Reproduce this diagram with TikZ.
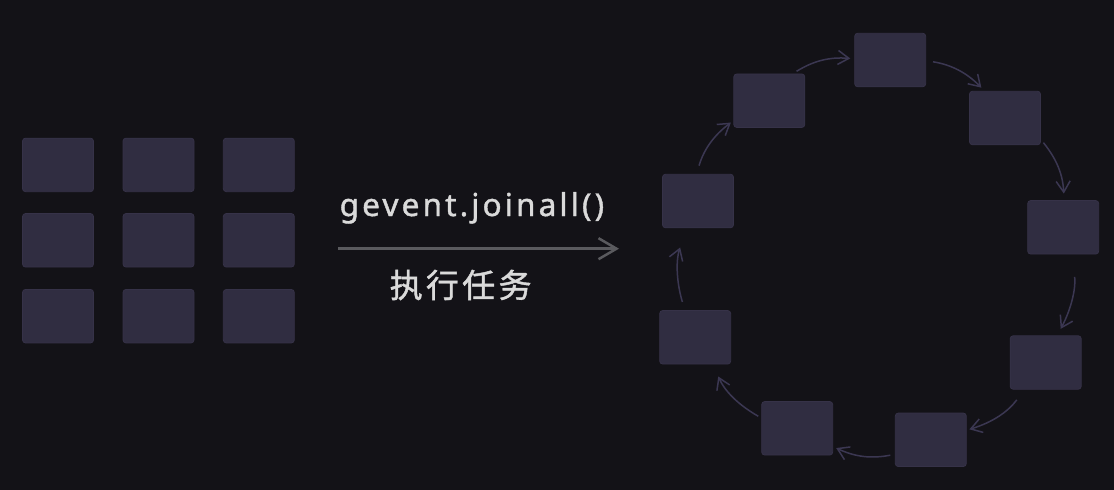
\documentclass[tikz,border=0pt]{standalone}
\usepackage{fontspec}
\usetikzlibrary{arrows.meta}
\newfontfamily\latinf[LetterSpace=10,FakeBold=1.3]{Noto Sans}
\newfontfamily\cjkf[LetterSpace=10,FakeBold=1.3]{Noto Sans CJK SC}
\definecolor{bg}{HTML}{131217}
\definecolor{boxfill}{HTML}{302D41}
\definecolor{boxline}{HTML}{363248}
\definecolor{arc}{HTML}{3B3752}
\definecolor{mainarr}{HTML}{5A5A5E}
\definecolor{txt}{HTML}{DADADA}
\tikzset{
  task/.style={rectangle, rounded corners=3pt, fill=boxfill, draw=boxline, line width=0.8pt,
    minimum width=71pt, minimum height=53.5pt, inner sep=0pt},
  loop/.style={draw=arc, line width=1.5pt, -{Straight Barb[length=11pt,width=14pt]}, bend left=18},
  mainarrow/.style={draw=mainarr, line width=2.5pt, -{Straight Barb[length=18pt,width=21pt]}},
  label/.style={text=txt, inner sep=0pt}
}
\begin{document}
\begin{tikzpicture}[x=1pt,y=1pt]
\fill[bg] (0,0) rectangle (1114,-490);
\useasboundingbox (0,0) rectangle (1114,-490);
% grid of tasks
\foreach \c/\x in {1/58,2/158.5,3/258.8}{
  \foreach \r/\y in {1/-164.9,2/-240.3,3/-316.2}{
    \node[task] (g\r\c) at (\x,\y) {};
  }
}
% main arrow and labels
\coordinate (ms) at (338,-248.7);
\coordinate (me) at (619,-248.7);
\draw[mainarrow] (ms) -- (me);
\node[label, anchor=base west] (t1) at (339.5,-216) {\latinf\fontsize{31.5}{38}\selectfont gevent.joinall()};
\node[label, anchor=base west] (t2) at (389.5,-297.5) {\cjkf\fontsize{33}{38}\selectfont 执行任务};
% circle of tasks
\node[task] (c1) at (698,-201) {};
\node[task] (c2) at (769.3,-100.7) {};
\node[task] (c3) at (890.2,-60) {};
\node[task] (c4) at (1005,-118) {};
\node[task] (c5) at (1063.2,-227.3) {};
\node[task] (c6) at (1045.7,-362.5) {};
\node[task] (c7) at (930.8,-439.8) {};
\node[task] (c8) at (797.2,-428.3) {};
\node[task] (c9) at (695.2,-337.3) {};
\draw[loop, shorten <=8.6pt, shorten >=3.2pt] (c1.93) to (c2.209);
\draw[loop, shorten <=4.3pt, shorten >=4pt] (c2.49) to (c3.178);
\draw[loop, shorten <=7pt, shorten >=4.5pt] (c3.-1) to (c4.127);
\draw[loop, shorten <=4pt, shorten >=6.6pt] (c4.-31) to (c5.88);
\draw[loop, shorten <=22.6pt, shorten >=7.4pt] (c5.-73) to (c6.67);
\draw[loop, shorten <=12.8pt, shorten >=2.8pt] (c6.232) to (c7.15);
\draw[loop, shorten <=4.7pt, shorten >=3.4pt] (c7.202) to (c8.-27.5);
\draw[loop, shorten <=3.5pt, shorten >=13.2pt] (c8.164) to (c9.-57);
\draw[loop, shorten <=8.5pt, shorten >=20.5pt] (c9.111) to (c1.248);
\end{tikzpicture}
\end{document}
